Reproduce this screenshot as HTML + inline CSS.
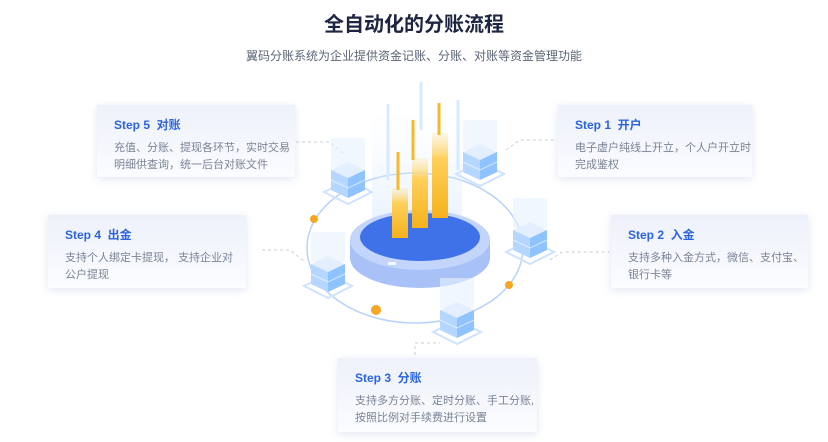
<!DOCTYPE html>
<html><head><meta charset="utf-8"><style>
body{margin:0;width:828px;height:442px;background:#fff;position:relative;overflow:hidden;font-family:"Liberation Sans","Noto Sans CJK SC",sans-serif}
.t{position:absolute;left:0;width:828px;text-align:center;top:8px;font-size:20px;font-weight:bold;color:#1d2540}
.s{position:absolute;left:0;width:828px;text-align:center;top:47px;font-size:12px;color:#5c6577}
.c{position:absolute;background:linear-gradient(180deg,#eef1fb,#fbfcff);box-shadow:0 2px 8px rgba(120,140,190,.22);box-sizing:border-box;padding:11px 0 0 17px}
.c h{display:block;font-size:12px;font-weight:bold;color:#2a64e0;margin-bottom:7px}
.c p{margin:0;font-size:11px;line-height:17px;color:#7a8396}
</style></head><body>
<div class="t">全自动化的分账流程</div>
<div class="s">翼码分账系统为企业提供资金记账、分账、对账等资金管理功能</div>
<svg width="828" height="442" style="position:absolute;left:0;top:0">
<defs>
<linearGradient id="y" x1="0" y1="0" x2="0" y2="1"><stop offset="0" stop-color="#fde7a8" stop-opacity=".3"/><stop offset=".3" stop-color="#ffd05a"/><stop offset="1" stop-color="#f5b21c"/></linearGradient>
<linearGradient id="lb" x1="0" y1="0" x2="0" y2="1"><stop offset="0" stop-color="#e5f2ff" stop-opacity="0"/><stop offset="1" stop-color="#cfe4ff"/></linearGradient>
<g id="cube">
<rect x="-17" y="-40" width="34" height="30" fill="#e8f2ff" opacity=".6"/>
<path d="M-24 14 L0 26 L24 14 L0 2 Z" fill="none" stroke="#cfe2ff" stroke-width="2"/>
<path d="M-17 -8 L0 -16 L17 -8 L0 0 Z" fill="#e3efff"/>
<path d="M-17 -8 L0 0 V20 L-17 12 Z" fill="#b5d6ff"/>
<path d="M17 -8 L0 0 V20 L17 12 Z" fill="#8ec3ff"/>
<path d="M-17 2 L0 10 L17 2" fill="none" stroke="#fff" stroke-opacity=".6"/>
</g>
</defs>
<g stroke="#c8ced8" stroke-dasharray="3 3" fill="none">
<path d="M296 142 H330 L345 155"/><path d="M506 150 L520 140 H557"/><path d="M262 250 H290 L305 262"/><path d="M550 260 L562 252 H610"/><path d="M415 355 V343 H440"/>
</g>
<ellipse cx="415" cy="248" rx="108" ry="75" fill="none" stroke="#b7d3fb" stroke-width="1.5"/>
<rect x="372" y="110" width="90" height="120" fill="url(#lb)" opacity=".5"/>
<ellipse cx="420" cy="258" rx="70" ry="30" fill="#a8c2f8"/>
<rect x="350" y="240" width="140" height="18" fill="#a8c2f8"/>
<ellipse cx="420" cy="240" rx="70" ry="30" fill="#c3d5fb"/>
<ellipse cx="420" cy="237" rx="60" ry="24" fill="#3f71e8"/>
<rect x="388" y="262" width="8" height="3" fill="#fff" opacity=".8"/>
<g stroke="#d8eaff" stroke-width="3"><line x1="388" y1="104" x2="388" y2="180"/><line x1="421" y1="82" x2="421" y2="130"/><line x1="458" y1="100" x2="458" y2="170"/></g>
<rect x="392" y="188" width="16" height="50" fill="url(#y)"/>
<rect x="412" y="158" width="16" height="70" fill="url(#y)"/>
<rect x="432" y="133" width="16" height="85" fill="url(#y)"/>
<line x1="398" y1="152" x2="398" y2="190" stroke="#f6b928" stroke-width="3"/>
<line x1="413" y1="120" x2="413" y2="160" stroke="#f6b928" stroke-width="3"/>
<line x1="439" y1="103" x2="439" y2="135" stroke="#f6b928" stroke-width="3"/>
<use href="#cube" x="348" y="178"/>
<use href="#cube" x="480" y="160"/>
<use href="#cube" x="530" y="238"/>
<use href="#cube" x="328" y="272"/>
<use href="#cube" x="457" y="318"/>
<circle cx="314" cy="219" r="4" fill="#f5a623"/><circle cx="376" cy="310" r="5" fill="#f5a623"/><circle cx="509" cy="285" r="4" fill="#f5a623"/>
</svg>
<div class="c" style="left:97px;top:105px;width:198px;height:72px"><h>Step 5&nbsp; 对账</h><p>充值、分账、提现各环节，实时交易<br>明细供查询，统一后台对账文件</p></div>
<div class="c" style="left:48px;top:215px;width:198px;height:73px"><h>Step 4&nbsp; 出金</h><p>支持个人绑定卡提现， 支持企业对<br>公户提现</p></div>
<div class="c" style="left:558px;top:105px;width:194px;height:72px"><h>Step 1&nbsp; 开户</h><p>电子虚户纯线上开立，个人户开立时<br>完成鉴权</p></div>
<div class="c" style="left:611px;top:215px;width:197px;height:73px"><h>Step 2&nbsp; 入金</h><p>支持多种入金方式，微信、支付宝、<br>银行卡等</p></div>
<div class="c" style="left:338px;top:358px;width:199px;height:74px"><h>Step 3&nbsp; 分账</h><p>支持多方分账、定时分账、手工分账,<br>按照比例对手续费进行设置</p></div>
</body></html>
